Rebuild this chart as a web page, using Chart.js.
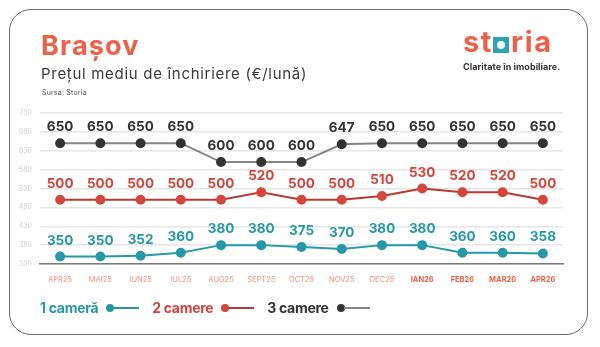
<!DOCTYPE html>
<html>
<head>
<meta charset="utf-8">
<script src="https://cdn.jsdelivr.net/npm/chart.js@4.4.1/dist/chart.umd.min.js"></script>
<style>
    html, body { margin: 0; padding: 0; background: #fff; }
    body { width: 600px; height: 347px; position: relative; overflow: hidden; font-family: Inter, "Noto Sans", sans-serif; }
    .card {
        position: absolute; left: 9px; top: 9px; width: 579px; height: 326px;
        border: 1.5px solid #6b6b6b; border-radius: 22px; box-sizing: border-box;
    }
    #grafico { position: absolute; left: 0; top: 0; }
    .titulo { position: absolute; left: 41px; top: 29px; font-size: 27px; font-weight: 700; color: #ee6148; letter-spacing: 1.2px; }
    .subtitulo { position: absolute; left: 41px; top: 64px; font-size: 15px; color: #3a3a3a; letter-spacing: 0.7px; }
    .sursa { position: absolute; left: 42px; top: 88px; font-size: 7px; color: #555; letter-spacing: 0.2px; }
    .logo { position: absolute; left: 463px; top: 24px; font-size: 29px; font-weight: 700; color: #ee6148; letter-spacing: 1.6px; line-height: 36px; }
    .logo .o {
        display: inline-block; width: 16px; height: 16px; background: #2aa3b5; position: relative;
        margin: 0 2px 0 0; vertical-align: -1px;
    }
    .logo .o::after {
        content: ''; position: absolute; left: 4px; top: 4px; width: 8px; height: 8px; border-radius: 50%; background: #fff;
    }
    .slogan { position: absolute; left: 463px; top: 61px; font-size: 9px; font-weight: 700; color: #333; letter-spacing: 0.05px; }
    #leyenda { position: absolute; left: 40px; top: 299px; display: flex; align-items: center; }
    .item { display: flex; align-items: center; font-size: 14px; font-weight: 700; margin-right: 13px; letter-spacing: -0.3px; }
    .muestra { display: flex; align-items: center; margin-left: 8px; }
    .muestra .p { width: 8px; height: 8px; border-radius: 50%; }
    .muestra .l { width: 26px; height: 2px; margin-left: -1px; }
</style>
</head>
<body>
<div class="card"></div>
<canvas id="grafico" width="600" height="347"></canvas>
<div class="titulo">Brașov</div>
<div class="subtitulo">Prețul mediu de închiriere (€/lună)</div>
<div class="sursa">Sursa: Storia</div>
<div class="logo">st<span class="o"></span>ria</div>
<div class="slogan">Claritate în imobiliare.</div>
<div id="leyenda"></div>

<script>
const meses = ['APR25', 'MAI25', 'IUN25', 'IUL25', 'AUG25', 'SEPT25', 'OCT25', 'NOV25', 'DEC25', 'IAN26', 'FEB26', 'MAR26', 'APR26']
const o1camera = [350, 350, 352, 360, 380, 380, 375, 370, 380, 380, 360, 360, 358]
const o2camere = [500, 500, 500, 500, 500, 520, 500, 500, 510, 530, 520, 520, 500]
const o3camere = [650, 650, 650, 650, 600, 600, 600, 647, 650, 650, 650, 650, 650]
const ticksY = [330, 380, 430, 480, 530, 580, 630, 680, 730]

const series = [
    { nombre: '1 cameră', datos: o1camera, linea: '#2598a9', punto: '#2598a9', texto: '#2598a9' },
    { nombre: '2 camere', datos: o2camere, linea: '#b9382f', punto: '#d6453b', texto: '#d6453b' },
    { nombre: '3 camere', datos: o3camere, linea: '#858585', punto: '#333333', texto: '#333333' }
]

// etiquetas de valor sobre cada punto
const etiquetasValor = {
    id: 'etiquetasValor',
    afterDatasetsDraw(chart) {
        const ctx = chart.ctx
        ctx.save()
        ctx.font = '700 13.5px Inter, sans-serif'
        ctx.textAlign = 'center'
        ctx.textBaseline = 'middle'
        chart.data.datasets.forEach((ds, i) => {
            const meta = chart.getDatasetMeta(i)
            ctx.fillStyle = ds.colorTexto
            meta.data.forEach((p, j) => {
                ctx.fillText(ds.data[j], p.x, p.y - 16)
            })
        })
        ctx.restore()
    }
}

new Chart(document.getElementById('grafico'), {
    type: 'line',
    data: {
        labels: meses,
        datasets: series.map(s => ({
            label: s.nombre,
            data: s.datos,
            borderColor: s.linea,
            backgroundColor: s.punto,
            pointBackgroundColor: s.punto,
            pointBorderColor: s.punto,
            pointRadius: 4,
            borderWidth: 2,
            tension: 0,
            colorTexto: s.texto
        }))
    },
    plugins: [etiquetasValor],
    options: {
        responsive: false,
        animation: false,
        layout: { padding: { top: 113, right: 37, bottom: 63, left: 0 } },
        plugins: {
            legend: { display: false },
            tooltip: { enabled: false }
        },
        scales: {
            x: {
                offset: true,
                afterFit: (s) => { s.height = 20 },
                grid: { display: false, drawTicks: false },
                border: { display: true, color: '#7a7a7a', width: 1.5 },
                ticks: {
                    padding: 11,
                    autoSkip: false,
                    maxRotation: 0,
                    color: (c) => c.index >= 9 ? '#ee6148' : '#f2917e',
                    font: (c) => ({ family: 'Inter, sans-serif', size: 7.5, weight: c.index >= 9 ? '700' : '400' })
                }
            },
            y: {
                min: 330,
                max: 730,
                afterFit: (s) => { s.width = 40 },
                afterBuildTicks: (s) => { s.ticks = ticksY.map(v => ({ value: v })) },
                grid: { color: '#e6e6e6', lineWidth: 1.5, drawTicks: false },
                border: { display: false },
                ticks: {
                    padding: 8,
                    color: '#cfcfcf',
                    font: { family: 'Inter, sans-serif', size: 7 }
                }
            }
        }
    }
})

// leyenda: texto primero, luego muestra de punto y línea
const leyenda = document.getElementById('leyenda')
series.forEach(s => {
    const item = document.createElement('div')
    item.className = 'item'
    item.style.color = s.texto
    item.innerHTML = `<span>${s.nombre}</span><span class="muestra"><span class="p" style="background:${s.punto}"></span><span class="l" style="background:${s.linea}"></span></span>`
    leyenda.appendChild(item)
})
</script>
</body>
</html>
